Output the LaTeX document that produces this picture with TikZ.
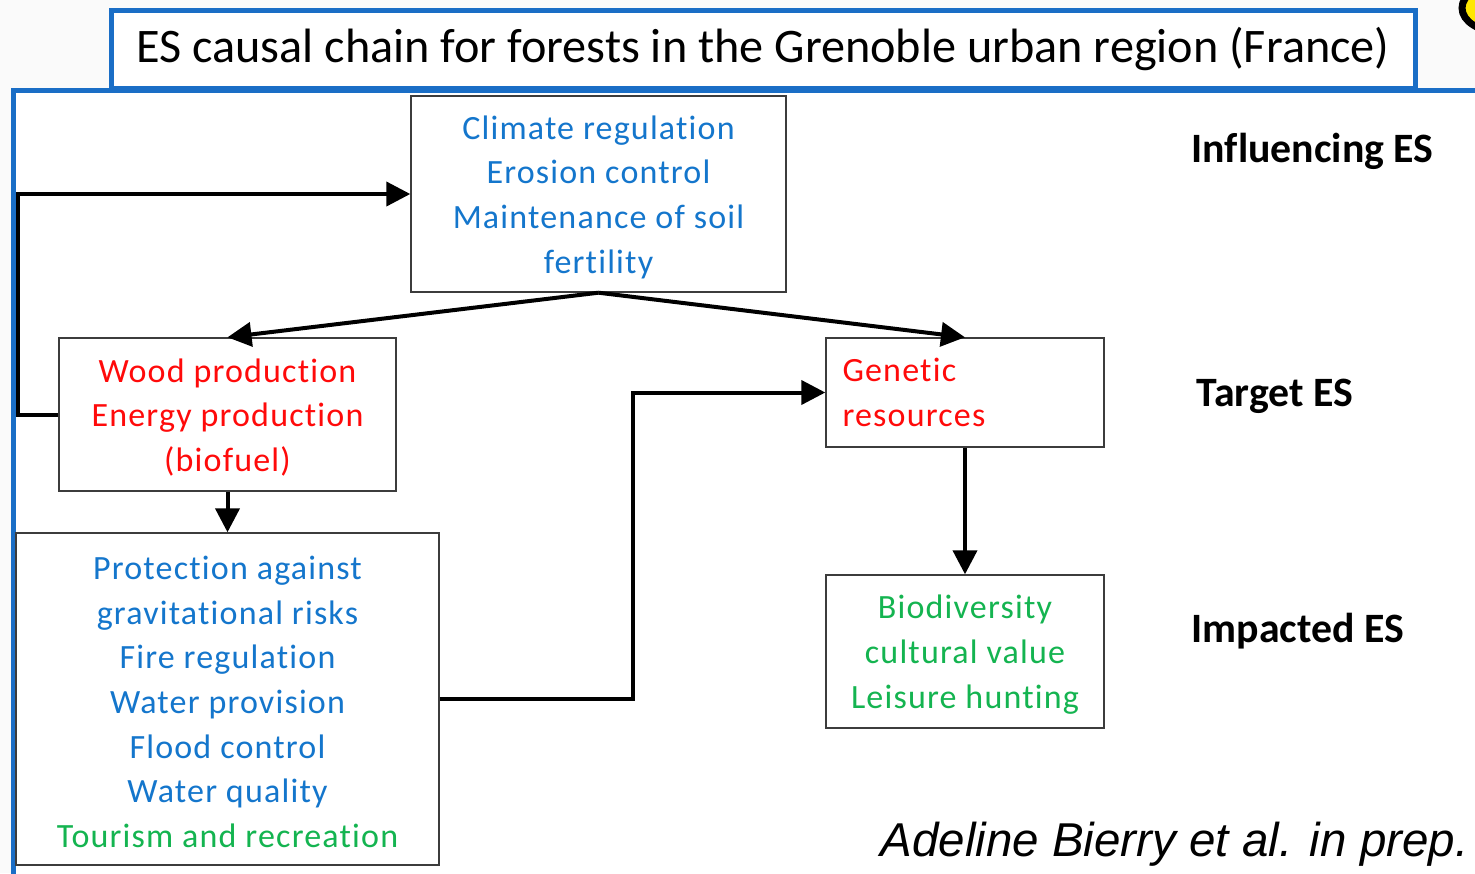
\documentclass[tikz,border=0pt]{standalone}
\usepackage{fontspec}
\setmainfont[Ligatures={NoCommon}]{Carlito}
\newfontfamily\citefont{Liberation Sans}
\newfontfamily\boxfont[LetterSpace=3.5,Ligatures={NoCommon}]{Carlito}
\usetikzlibrary{arrows.meta}
\definecolor{framecol}{RGB}{26,110,198}
\definecolor{esblue}{RGB}{20,118,204}
\definecolor{esred}{RGB}{255,10,10}
\definecolor{esgreen}{RGB}{20,180,80}
\definecolor{boxline}{RGB}{60,60,60}
\definecolor{pagebg}{RGB}{250,250,250}
\tikzset{
  esbox/.style={draw=boxline, line width=1.4pt, fill=white, inner sep=0pt},
  estext/.style={inner sep=0pt, align=center, yshift=-3pt,
    font=\boxfont\fontsize{34}{44.7}\selectfont},
  arr/.style={line width=4pt, -{Triangle[length=24pt,width=24pt]}},
  level/.style={font=\fontsize{41.8}{48}\selectfont\bfseries, anchor=west},
}
\begin{document}
\begin{tikzpicture}[x=1pt,y=-1pt]
\useasboundingbox (0,0) rectangle (1475,873);
% page and frames
\fill[pagebg] (0,0) rectangle (1475,873);
\fill[white] (13,90) rectangle (1490,890);
\draw[framecol, line width=5pt] (13,890) -- (13,90) -- (1490,90);
% corner logo fragment
\draw[line width=7pt, fill=yellow!90!orange] (1500,8) ellipse [x radius=38pt, y radius=24pt];
% title
\node[draw=framecol, line width=5pt, fill=white, minimum width=1304pt, minimum height=78pt,
      inner sep=0pt, font=\fontsize{48.2}{54}\selectfont] (title) at (763,49)
  {ES causal chain for forests in the Grenoble urban region (France)};
% boxes
\node[esbox, minimum width=375pt, minimum height=196pt] (top) at (598.5,194) {};
\node[esbox, minimum width=337pt, minimum height=153pt] (wood) at (227.5,414.5) {};
\node[esbox, minimum width=278pt, minimum height=109pt] (gen) at (965,392.5) {};
\node[esbox, minimum width=423pt, minimum height=332pt] (prot) at (227.5,699) {};
\node[esbox, minimum width=278pt, minimum height=153pt] (bio) at (965,651.5) {};
% box texts
\node[estext, text=esblue] (toptxt) at (top)
  {Climate regulation\\Erosion control\\Maintenance of soil\\fertility};
\node[estext, text=esred] (woodtxt) at (wood)
  {Wood production\\Energy production\\(biofuel)};
\node[estext, yshift=3pt, text=esred, align=left, anchor=west] (gentxt) at ([xshift=17pt]gen.west)
  {Genetic\\resources};
\node[estext, text=esblue] (prottxt) at (prot)
  {Protection against\\gravitational risks\\Fire regulation\\Water provision\\Flood control\\Water quality\\\textcolor{esgreen}{Tourism and recreation}};
\node[estext, text=esgreen] (biotxt) at (bio)
  {Biodiversity\\cultural value\\Leisure hunting};
% level labels
\node[level] (lin) at (1188,151) {Influencing ES};
\node[level] (ltg) at (1193,396) {Target ES};
\node[level] (lim) at (1188,631) {Impacted ES};
% citation
\node[anchor=east, font=\citefont\itshape\fontsize{47.5}{56}\selectfont] (cite) at (1472,844)
  {Adeline Bierry et al. in prep.};
% connectors
\coordinate (loopx) at (18,0);
\coordinate (jogx) at (633,0);
\draw[arr] (wood.west) -- (wood.west -| loopx) |- (top.west);
\draw[arr] (top.south) -- (wood.north);
\draw[arr] (top.south) -- (gen.north);
\draw[arr] (wood.south) -- (prot.north);
\draw[arr] (prot.east) -- (prot.east -| jogx) |- (gen.west);
\draw[arr] (gen.south) -- (bio.north);
\end{tikzpicture}
\end{document}
